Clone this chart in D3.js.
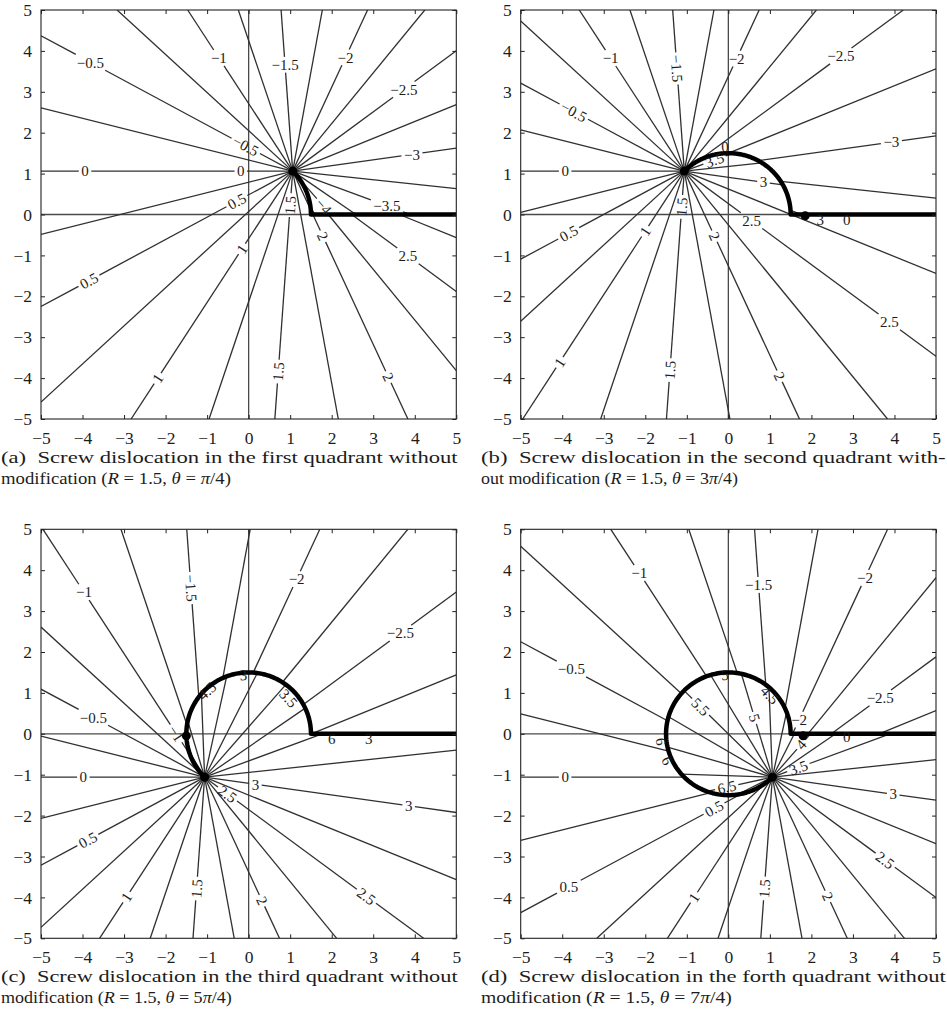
<!DOCTYPE html>
<html>
<head>
<meta charset="utf-8">
<script src="https://cdn.jsdelivr.net/npm/d3@7"></script>
<style>
  body { margin: 0; background: #fff; }
  svg { display: block; font-family: "Liberation Serif", "DejaVu Serif", serif; }
  svg text { font-family: "Liberation Serif", "DejaVu Serif", serif; }
</style>
</head>
<body>
<svg id="chart" width="947" height="1025"></svg>
<script>
// ---------------------------------------------------------------
// Data
// ---------------------------------------------------------------
const panelNames = ["a", "b", "c", "d"];
const cutRadius = 1.5;                                   // R
const cutAngle = [Math.PI / 4, 3 * Math.PI / 4, 5 * Math.PI / 4, 7 * Math.PI / 4]; // θ
const tickValues = [-5, -4, -3, -2, -1, 0, 1, 2, 3, 4, 5];

// contour levels of the angle field
const contourLevels = [
  -4.5, -4.25, -4, -3.75, -3.5, -3.25, -3, -2.75, -2.5, -2.25, -2, -1.75,
  -1.5, -1.25, -1, -0.75, -0.5, -0.25, 0, 0.25, 0.5, 0.75, 1, 1.25,
  1.5, 1.75, 2, 2.25, 2.5, 2.75, 3, 3.25, 3.5, 3.75, 4, 4.25,
  4.5, 4.75, 5, 5.25, 5.5, 5.75, 6, 6.25, 6.5, 6.75, 7
];

// inline contour labels: [level, x, y, alignedWithLine]
const labelsA = [
  [-0.5, -3.82, 3.70, 0], [-1, -0.73, 3.82, 0], [-1.5, 0.86, 3.66, 0], [-2, 2.38, 3.82, 0],
  [-2.5, 3.78, 3.0, 0], [-0.5, -0.08, 1.66, 1], [-3, 3.93, 1.48, 0], [0, -3.94, 1.06, 0],
  [0, -0.19, 1.06, 0], [0.5, -0.28, 0.32, 1], [1.5, 0.99, 0.23, 1], [-4, 1.79, 0.18, 1],
  [-3.5, 3.33, 0.21, 0], [2, 1.77, -0.54, 1], [1, -0.18, -0.83, 1], [2.5, 3.81, -1.05, 0],
  [0.5, -3.84, -1.63, 1], [1, -2.2, -4.0, 1], [1.5, 0.72, -3.84, 1], [2, 3.37, -3.97, 1]
];
const labelsB = [
  [-1, -2.81, 3.84, 0], [-1.5, -1.24, 3.57, 1], [-2, 0.25, 3.79, 0], [-2.5, 2.69, 3.90, 0],
  [-0.5, -3.73, 2.5, 1], [-3, 3.93, 1.74, 0], [0, -3.93, 1.06, 0], [3.5, -0.32, 1.3, 1],
  [3, 0.84, 0.75, 0], [1.5, -1.16, 0.19, 1], [0.5, -3.85, -0.45, 1], [1, -2.05, -0.38, 1],
  [2, -0.36, -0.54, 1], [2.5, 0.52, -0.2, 0], [2.5, 3.85, -2.66, 0], [1, -4.09, -3.6, 1],
  [1.5, -1.45, -3.80, 1], [2, 1.2, -3.97, 1]
];
const labelsC = [
  [-1, -4.0, 3.44, 0], [-1.5, -1.42, 3.56, 1], [-2, 1.2, 3.76, 0], [-2.5, 3.65, 2.47, 0],
  [-0.5, -3.74, 0.40, 0], [-1, -1.76, 0.0, 1], [0, -3.98, -1.06, 0], [3, 0.16, -1.25, 0],
  [2.5, -0.53, -1.5, 1], [3, 3.85, -1.78, 0], [0.5, -3.86, -2.62, 1], [1, -2.96, -3.98, 1],
  [1.5, -1.3, -3.78, 1], [2, 0.28, -4.1, 1], [2.5, 2.8, -4.02, 1]
];
const labelsD = [
  [-1, -2.1, 3.96, 0], [-1.5, 0.73, 3.64, 0], [-2, 3.31, 3.8, 0], [-0.5, -3.77, 1.6, 0],
  [-2.5, 3.65, 0.89, 0], [5.5, -0.67, 0.66, 1], [5, 0.6, 0.38, 1], [-2, 1.8, 0.3, 0],
  [4, 1.72, -0.23, 1], [3.5, 1.68, -0.81, 1], [0, -3.93, -1.06, 0], [6.5, -0.04, -1.3, 1],
  [3, 3.97, -1.48, 0], [0.5, -0.36, -1.8, 1], [2.5, 3.77, -3.1, 1], [0.5, -3.85, -3.72, 0],
  [1, -0.8, -4.02, 1], [1.5, 0.85, -3.78, 1], [2, 2.38, -3.98, 1]
];

// labels sitting on the crowded contours along the cut: [text, x, y, onArc]
const cutLabelsA = [];
const cutLabelsB = [["0", -0.08, 1.66, 1], ["3", 2.21, -0.13, 0], ["0", 2.85, -0.13, 0]];
const cutLabelsC = [["4.5", -1.0, 1.05, 1], ["3", -0.13, 1.44, 1], ["3.5", 0.96, 0.87, 1],
                    ["6", 2.0, -0.11, 0], ["3", 2.89, -0.11, 0]];
const cutLabelsD = [["5", -0.08, 1.44, 1], ["4.5", 1.0, 0.95, 1], ["0", 2.85, -0.07, 0],
                    ["6", -1.61, -0.19, 1], ["6", -1.47, -0.66, 1]];

// knots where the crowded contours meet the axis
const knotsA = [];
const knotsB = [[1.85, -0.03]];
const knotsC = [[-1.5, -0.05]];
const knotsD = [[1.8, -0.05]];

// captions
const captionFirst = [
  "(a)  Screw dislocation in the first quadrant without",
  "(b)  Screw dislocation in the second quadrant with-",
  "(c)  Screw dislocation in the third quadrant without",
  "(d)  Screw dislocation in the forth quadrant without"
];
const captionLead = ["modification (", "out modification (", "modification (", "modification ("];
const captionAngleCoef = ["", "3", "5", "7"];

const panelLabels = [labelsA, labelsB, labelsC, labelsD];
const panelCutLabels = [cutLabelsA, cutLabelsB, cutLabelsC, cutLabelsD];
const panelKnots = [knotsA, knotsB, knotsC, knotsD];

// ---------------------------------------------------------------
// Layout
// ---------------------------------------------------------------
const svg = d3.select("#chart");
const panelLeft = [41, 520.7, 41, 520.7];
const panelTop = [10, 10, 529.3, 529.3];
const plotW = 415.3, plotH = 409;
const fsTick = 17.5, fsLabel = 15, fsCap = 17.5;
const lineColor = "#303030", textColor = "#1c1c1c";
const TAU = 2 * Math.PI;

const fmt = v => (v < 0 ? "\u2212" + Math.abs(v) : String(v));

function winding(px, py, poly) {
  let wn = 0;
  for (let k = 0; k < poly.length; k++) {
    const [ax, ay] = poly[k];
    const [bx, by] = poly[(k + 1) % poly.length];
    const left = (bx - ax) * (py - ay) - (px - ax) * (by - ay);
    if (ay <= py) { if (by > py && left > 0) wn++; }
    else if (by <= py && left < 0) wn--;
  }
  return wn;
}

function subtractGaps(segs, gaps) {
  let out = segs.slice();
  gaps.forEach(([g0, g1]) => {
    const next = [];
    out.forEach(([s0, s1]) => {
      if (g1 <= s0 || g0 >= s1) { next.push([s0, s1]); return; }
      if (g0 > s0) next.push([s0, g0]);
      if (g1 < s1) next.push([g1, s1]);
    });
    out = next;
  });
  return out;
}

function normAngle(a) {
  while (a > 90) a -= 180;
  while (a <= -90) a += 180;
  return a;
}

function drawPanel(i) {
  const left = panelLeft[i], top = panelTop[i];
  const x = d3.scaleLinear().domain([-5, 5]).range([left, left + plotW]);
  const y = d3.scaleLinear().domain([-5, 5]).range([top + plotH, top]);
  const sx = plotW / 10, sy = plotH / 10;
  const th = cutAngle[i];
  const x0 = cutRadius * Math.cos(th), y0 = cutRadius * Math.sin(th);

  const g = svg.append("g").attr("class", "panel-" + panelNames[i]);
  const clipId = "clip-" + panelNames[i];
  g.append("clipPath").attr("id", clipId).append("rect")
    .attr("x", left).attr("y", top).attr("width", plotW).attr("height", plotH);
  const plot = g.append("g").attr("clip-path", `url(#${clipId})`);

  // coordinate axes through the origin
  plot.append("line").attr("x1", x(0)).attr("x2", x(0)).attr("y1", y(-5)).attr("y2", y(5))
    .attr("stroke", "#4a4a4a").attr("stroke-width", 1.3);
  plot.append("line").attr("x1", x(-5)).attr("x2", x(5)).attr("y1", y(0)).attr("y2", y(0))
    .attr("stroke", "#4a4a4a").attr("stroke-width", 1.3);

  // branch cut: arc of radius R from θ back to 0, then along the positive x axis
  const arcN = 180;
  const cutPts = [];
  for (let k = 0; k <= arcN; k++) {
    const t = th * (1 - k / arcN);
    cutPts.push([cutRadius * Math.cos(t), cutRadius * Math.sin(t)]);
  }
  const loop = cutPts.concat([[60, 0], [60, y0]]);
  cutPts.push([5, 0]);

  // straight contour rays of the angle field
  const rays = new Map();
  contourLevels.forEach(L => {
    const phi = L + Math.PI;
    const A = ((phi % TAU) + TAU) % TAU;
    const m = Math.round((A - Math.PI - L) / TAU);
    const c = Math.cos(phi), s = Math.sin(phi);
    const tx = c > 1e-12 ? (5 - x0) / c : c < -1e-12 ? (-5 - x0) / c : Infinity;
    const ty = s > 1e-12 ? (5 - y0) / s : s < -1e-12 ? (-5 - y0) / s : Infinity;
    const tmax = Math.min(tx, ty);
    const on = t => winding(x0 + c * t, y0 + s * t, loop) === m;
    const N = 500, segs = [];
    let prevT = 1e-7, prevOn = on(prevT), start = prevOn ? 0 : null;
    for (let k = 1; k <= N; k++) {
      const t = tmax * k / N, cur = on(t);
      if (cur !== prevOn) {
        let lo = prevT, hi = t;
        for (let it = 0; it < 30; it++) {
          const mid = (lo + hi) / 2;
          if (on(mid) === prevOn) lo = mid; else hi = mid;
        }
        const tc = (lo + hi) / 2;
        if (prevOn) { segs.push([start, tc]); start = null; } else start = tc;
        prevOn = cur;
      }
      prevT = t;
    }
    if (prevOn) segs.push([start, tmax]);
    rays.set(L, { c, s, segs, gaps: [] });
  });

  const P0x = x(x0), P0y = y(y0);
  const gText = g.append("g").attr("font-size", fsLabel)
    .attr("fill", textColor).attr("text-anchor", "middle");
  const pad = 2.5, hLab = fsLabel * 0.72;

  // inline labels that break their own contour
  panelLabels[i].forEach(([val, lx, ly, aligned]) => {
    const ray = rays.get(val);
    const Dx = sx * ray.c, Dy = -sy * ray.s;
    const D2 = Dx * Dx + Dy * Dy;
    const t = ((x(lx) - P0x) * Dx + (y(ly) - P0y) * Dy) / D2;
    const cx = P0x + t * Dx, cy = P0y + t * Dy;
    const ang = aligned ? normAngle(Math.atan2(Dy, Dx) * 180 / Math.PI) : 0;
    const txt = gText.append("text")
      .attr("transform", `translate(${cx},${cy}) rotate(${ang})`)
      .attr("dy", "0.35em").text(fmt(val));
    const w = txt.node().getComputedTextLength();
    const a = -ang * Math.PI / 180, ca = Math.cos(a), sa = Math.sin(a);
    const ox = P0x - cx, oy = P0y - cy;
    const qx = ox * ca - oy * sa, qy = ox * sa + oy * ca;
    const dx = Dx * ca - Dy * sa, dy = Dx * sa + Dy * ca;
    let t0 = -Infinity, t1 = Infinity;
    [[qx, dx, w / 2 + pad], [qy, dy, hLab / 2 + pad]].forEach(([q, d, lim]) => {
      if (Math.abs(d) < 1e-9) { if (Math.abs(q) > lim) t0 = Infinity; return; }
      let ta = (-lim - q) / d, tb = (lim - q) / d;
      if (ta > tb) [ta, tb] = [tb, ta];
      t0 = Math.max(t0, ta); t1 = Math.min(t1, tb);
    });
    if (t0 < t1) ray.gaps.push([t0, t1]);
  });

  const line = d3.line().x(p => x(p[0])).y(p => y(p[1]));
  const rayG = plot.append("g").attr("fill", "none").attr("stroke", lineColor)
    .attr("stroke-width", 1.3);
  rays.forEach(ray => {
    subtractGaps(ray.segs, ray.gaps).forEach(([s0, s1]) => {
      rayG.append("path").attr("d", line([
        [x0 + ray.c * s0, y0 + ray.s * s0],
        [x0 + ray.c * s1, y0 + ray.s * s1]
      ]));
    });
  });

  // labels on the crowded contours along the cut
  panelCutLabels[i].forEach(([str, lx, ly, onArc]) => {
    let ang = 0;
    if (onArc) {
      const tg = Math.atan2(ly, lx) - Math.PI / 2;
      ang = normAngle(Math.atan2(-sy * Math.sin(tg), sx * Math.cos(tg)) * 180 / Math.PI);
    }
    gText.append("text")
      .attr("transform", `translate(${x(lx)},${y(ly)}) rotate(${ang})`)
      .attr("dy", "0.35em").text(str);
  });

  // the cut itself, where all contour levels pile up
  plot.append("path").attr("d", line(cutPts)).attr("fill", "none")
    .attr("stroke", "#000").attr("stroke-width", 4.5)
    .attr("stroke-linejoin", "round");
  plot.append("circle").attr("cx", P0x).attr("cy", P0y).attr("r", 4.5).attr("fill", "#000");
  panelKnots[i].forEach(([kx, ky]) => {
    plot.append("circle").attr("cx", x(kx)).attr("cy", y(ky)).attr("r", 4.5).attr("fill", "#000");
  });

  // frame, inward ticks and tick labels
  const axG = g.append("g");
  const bottom = axG.append("g").attr("transform", `translate(0,${top + plotH})`)
    .call(d3.axisBottom(x).tickValues(tickValues).tickFormat(fmt).tickSizeInner(-4).tickSizeOuter(0).tickPadding(12.5));
  const leftAx = axG.append("g").attr("transform", `translate(${left},0)`)
    .call(d3.axisLeft(y).tickValues(tickValues).tickFormat(fmt).tickSizeInner(-4).tickSizeOuter(0).tickPadding(9));
  const topAx = axG.append("g").attr("transform", `translate(0,${top})`)
    .call(d3.axisTop(x).tickValues(tickValues).tickFormat("").tickSizeInner(-4).tickSizeOuter(0));
  const rightAx = axG.append("g").attr("transform", `translate(${left + plotW},0)`)
    .call(d3.axisRight(y).tickValues(tickValues).tickFormat("").tickSizeInner(-4).tickSizeOuter(0));
  [bottom, leftAx, topAx, rightAx].forEach(a => {
    a.attr("font-family", null).attr("font-size", fsTick);
    a.select(".domain").remove();
    a.selectAll("line").attr("stroke", "#222").attr("stroke-width", 1);
    a.selectAll("text").attr("font-size", fsTick).attr("fill", textColor);
  });
  axG.append("rect").attr("x", left).attr("y", top).attr("width", plotW).attr("height", plotH)
    .attr("fill", "none").attr("stroke", "#222").attr("stroke-width", 1.1);
}

d3.range(4).forEach(drawPanel);

// ---------------------------------------------------------------
// Captions
// ---------------------------------------------------------------
function captionLine(x0, baseline, parts, target) {
  const t = svg.append("text").attr("font-size", fsCap)
    .attr("fill", textColor).style("white-space", "pre");
  parts.forEach(([str, it]) => t.append("tspan").attr("font-style", it ? "italic" : null).text(str));
  const w = t.node().getComputedTextLength();
  t.attr("transform", `translate(${x0},${baseline}) scale(${target / w},1)`);
}

const capX = [1, 481, 1, 481];
const capBase = [462.5, 462.5, 981.5, 981.5];
const capW1 = [457, 465, 457, 465];
const capW2 = [230, 257, 231, 251];
d3.range(4).forEach(i => {
  captionLine(capX[i], capBase[i], [[captionFirst[i], 0]], capW1[i]);
  captionLine(capX[i], capBase[i] + 21, [
    [captionLead[i], 0], ["R", 1], [" = 1.5, ", 0], ["θ", 1], [" = " + captionAngleCoef[i], 0],
    ["π", 1], ["/4)", 0]
  ], capW2[i]);
});
</script>
</body>
</html>
